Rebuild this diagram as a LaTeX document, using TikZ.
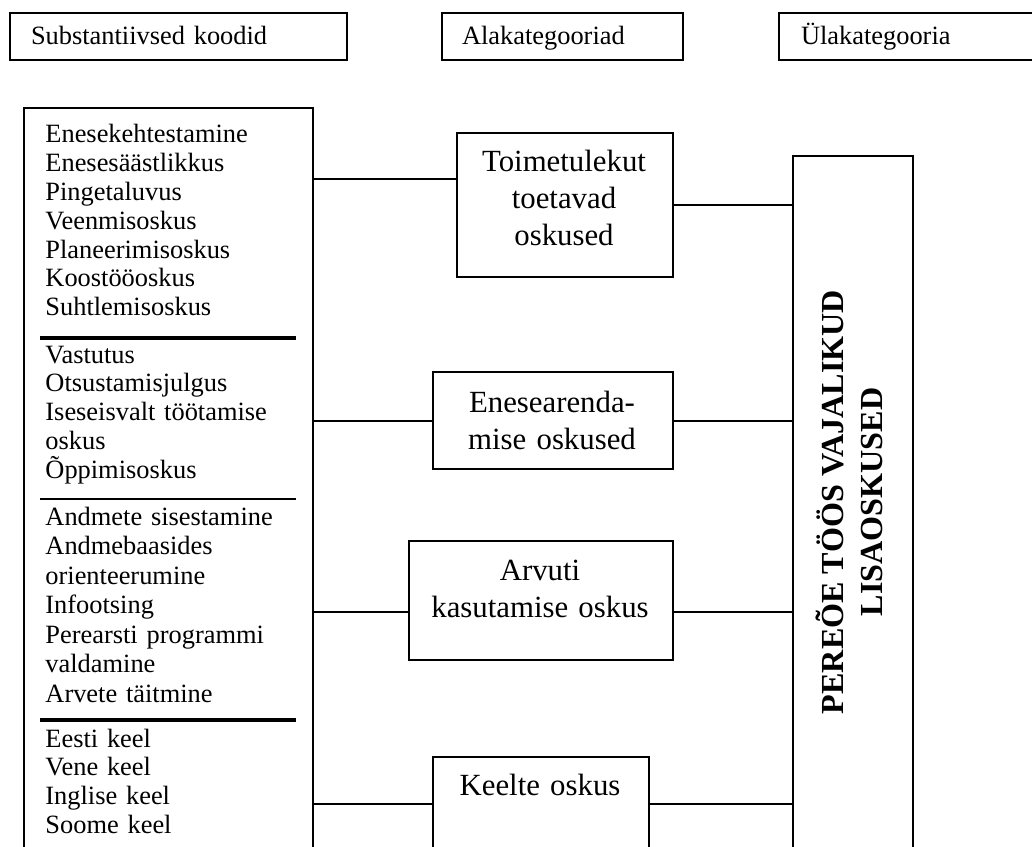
\documentclass[tikz,border=0pt]{standalone}
\usepackage{fontspec}
\setmainfont{Liberation Serif}
\newlength{\pxunit}
\setlength{\pxunit}{0.4545pt}
\begin{document}
\begin{tikzpicture}[x=0.4545pt, y=-0.4545pt,
  frame/.style={draw, line width=2\pxunit, inner sep=0pt},
  header/.style={frame, anchor=north west, minimum height=47\pxunit,
    align=left, font=\fontsize{12pt}{14pt}\selectfont,
    text height=0.95em, text depth=0.23em},
  catbox/.style={frame, anchor=north west},
  codetext/.style={anchor=base west, inner sep=0pt, align=left,
    text width=250\pxunit},
  cattext/.style={anchor=base, inner sep=0pt, align=center,
    text width=250\pxunit, font=\fontsize{14pt}{37\pxunit}\selectfont},
  conn/.style={line width=2\pxunit},
  thickrule/.style={line width=3.3\pxunit},
  thinrule/.style={line width=1.8\pxunit}
]
\useasboundingbox (0,0) rectangle (1032,847);
\clip (0,0) rectangle (1032,847);

% column headings
\node[header, minimum width=337\pxunit, inner xsep=21\pxunit, text width=295\pxunit]
  (h1) at (9,12) {Substantiivsed koodid};
\node[header, minimum width=241\pxunit, inner xsep=20\pxunit, text width=201\pxunit]
  (h2) at (441,12) {Alakategooriad};
\node[header, minimum width=300\pxunit, inner xsep=22\pxunit, text width=256\pxunit]
  (h3) at (778,12) {Ülakategooria};

% substantive codes
\node[catbox, minimum width=289\pxunit, minimum height=780\pxunit] (codes) at (23,107) {};
\node[codetext, font=\fontsize{12pt}{28.8\pxunit}\selectfont] (g1) at (45,143)
  {Enesekehtestamine\\Enesesäästlikkus\\Pingetaluvus\\Veenmisoskus\\Planeerimisoskus\\Koostööoskus\\Suhtlemisoskus};
\node[codetext, font=\fontsize{12pt}{28.8\pxunit}\selectfont] (g2) at (45,363)
  {Vastutus\\Otsustamisjulgus\\Iseseisvalt töötamise\\oskus\\Õppimisoskus};
\node[codetext, font=\fontsize{12pt}{29.5\pxunit}\selectfont] (g3) at (45,525)
  {Andmete sisestamine\\Andmebaasides\\orienteerumine\\Infootsing\\Perearsti programmi\\valdamine\\Arvete täitmine};
\node[codetext, font=\fontsize{12pt}{28.7\pxunit}\selectfont] (g4) at (45,747)
  {Eesti keel\\Vene keel\\Inglise keel\\Soome keel};

\draw[thickrule] (40,338) -- (296,338);
\draw[thinrule] (40,499) -- (296,499);
\draw[thickrule] (40,720) -- (296,720);

% subcategories
\node[catbox, minimum width=216\pxunit, minimum height=144\pxunit] (t1) at (456,132) {};
\node[cattext] (t1txt) at (564,172) {Toimetulekut\\toetavad\\oskused};
\node[catbox, minimum width=240\pxunit, minimum height=97\pxunit] (t2) at (432,371) {};
\node[cattext] (t2txt) at (552,412) {Enesearenda-\\mise oskused};
\node[catbox, minimum width=264\pxunit, minimum height=119\pxunit] (t3) at (408,540) {};
\node[cattext] (t3txt) at (540,580) {Arvuti\\kasutamise oskus};
\node[catbox, minimum width=216\pxunit, minimum height=140\pxunit] (t4) at (432,756) {};
\node[cattext] (t4txt) at (540,795) {Keelte oskus};

% main category
\node[catbox, minimum width=120\pxunit, minimum height=740\pxunit] (top) at (792,155) {};
\node[rotate=90, align=center, inner sep=0pt,
  font=\bfseries\fontsize{14.6pt}{39\pxunit}\selectfont] (toplbl) at (849,502)
  {PEREÕE TÖÖS VAJALIKUD\\LISAOSKUSED};

% connector heights
\coordinate (y1) at (0,179);
\coordinate (y3) at (0,612);
\coordinate (y4) at (0,804);

\draw[conn] (codes.east |- y1) -- (t1.west |- y1);
\draw[conn] (codes.east |- t2.west) -- (t2.west);
\draw[conn] (codes.east |- y3) -- (t3.west |- y3);
\draw[conn] (codes.east |- y4) -- (t4.west |- y4);

\draw[conn] (t1.east) -- (top.west |- t1.east);
\draw[conn] (t2.east) -- (top.west |- t2.east);
\draw[conn] (t3.east |- y3) -- (top.west |- y3);
\draw[conn] (t4.east |- y4) -- (top.west |- y4);
\end{tikzpicture}
\end{document}
